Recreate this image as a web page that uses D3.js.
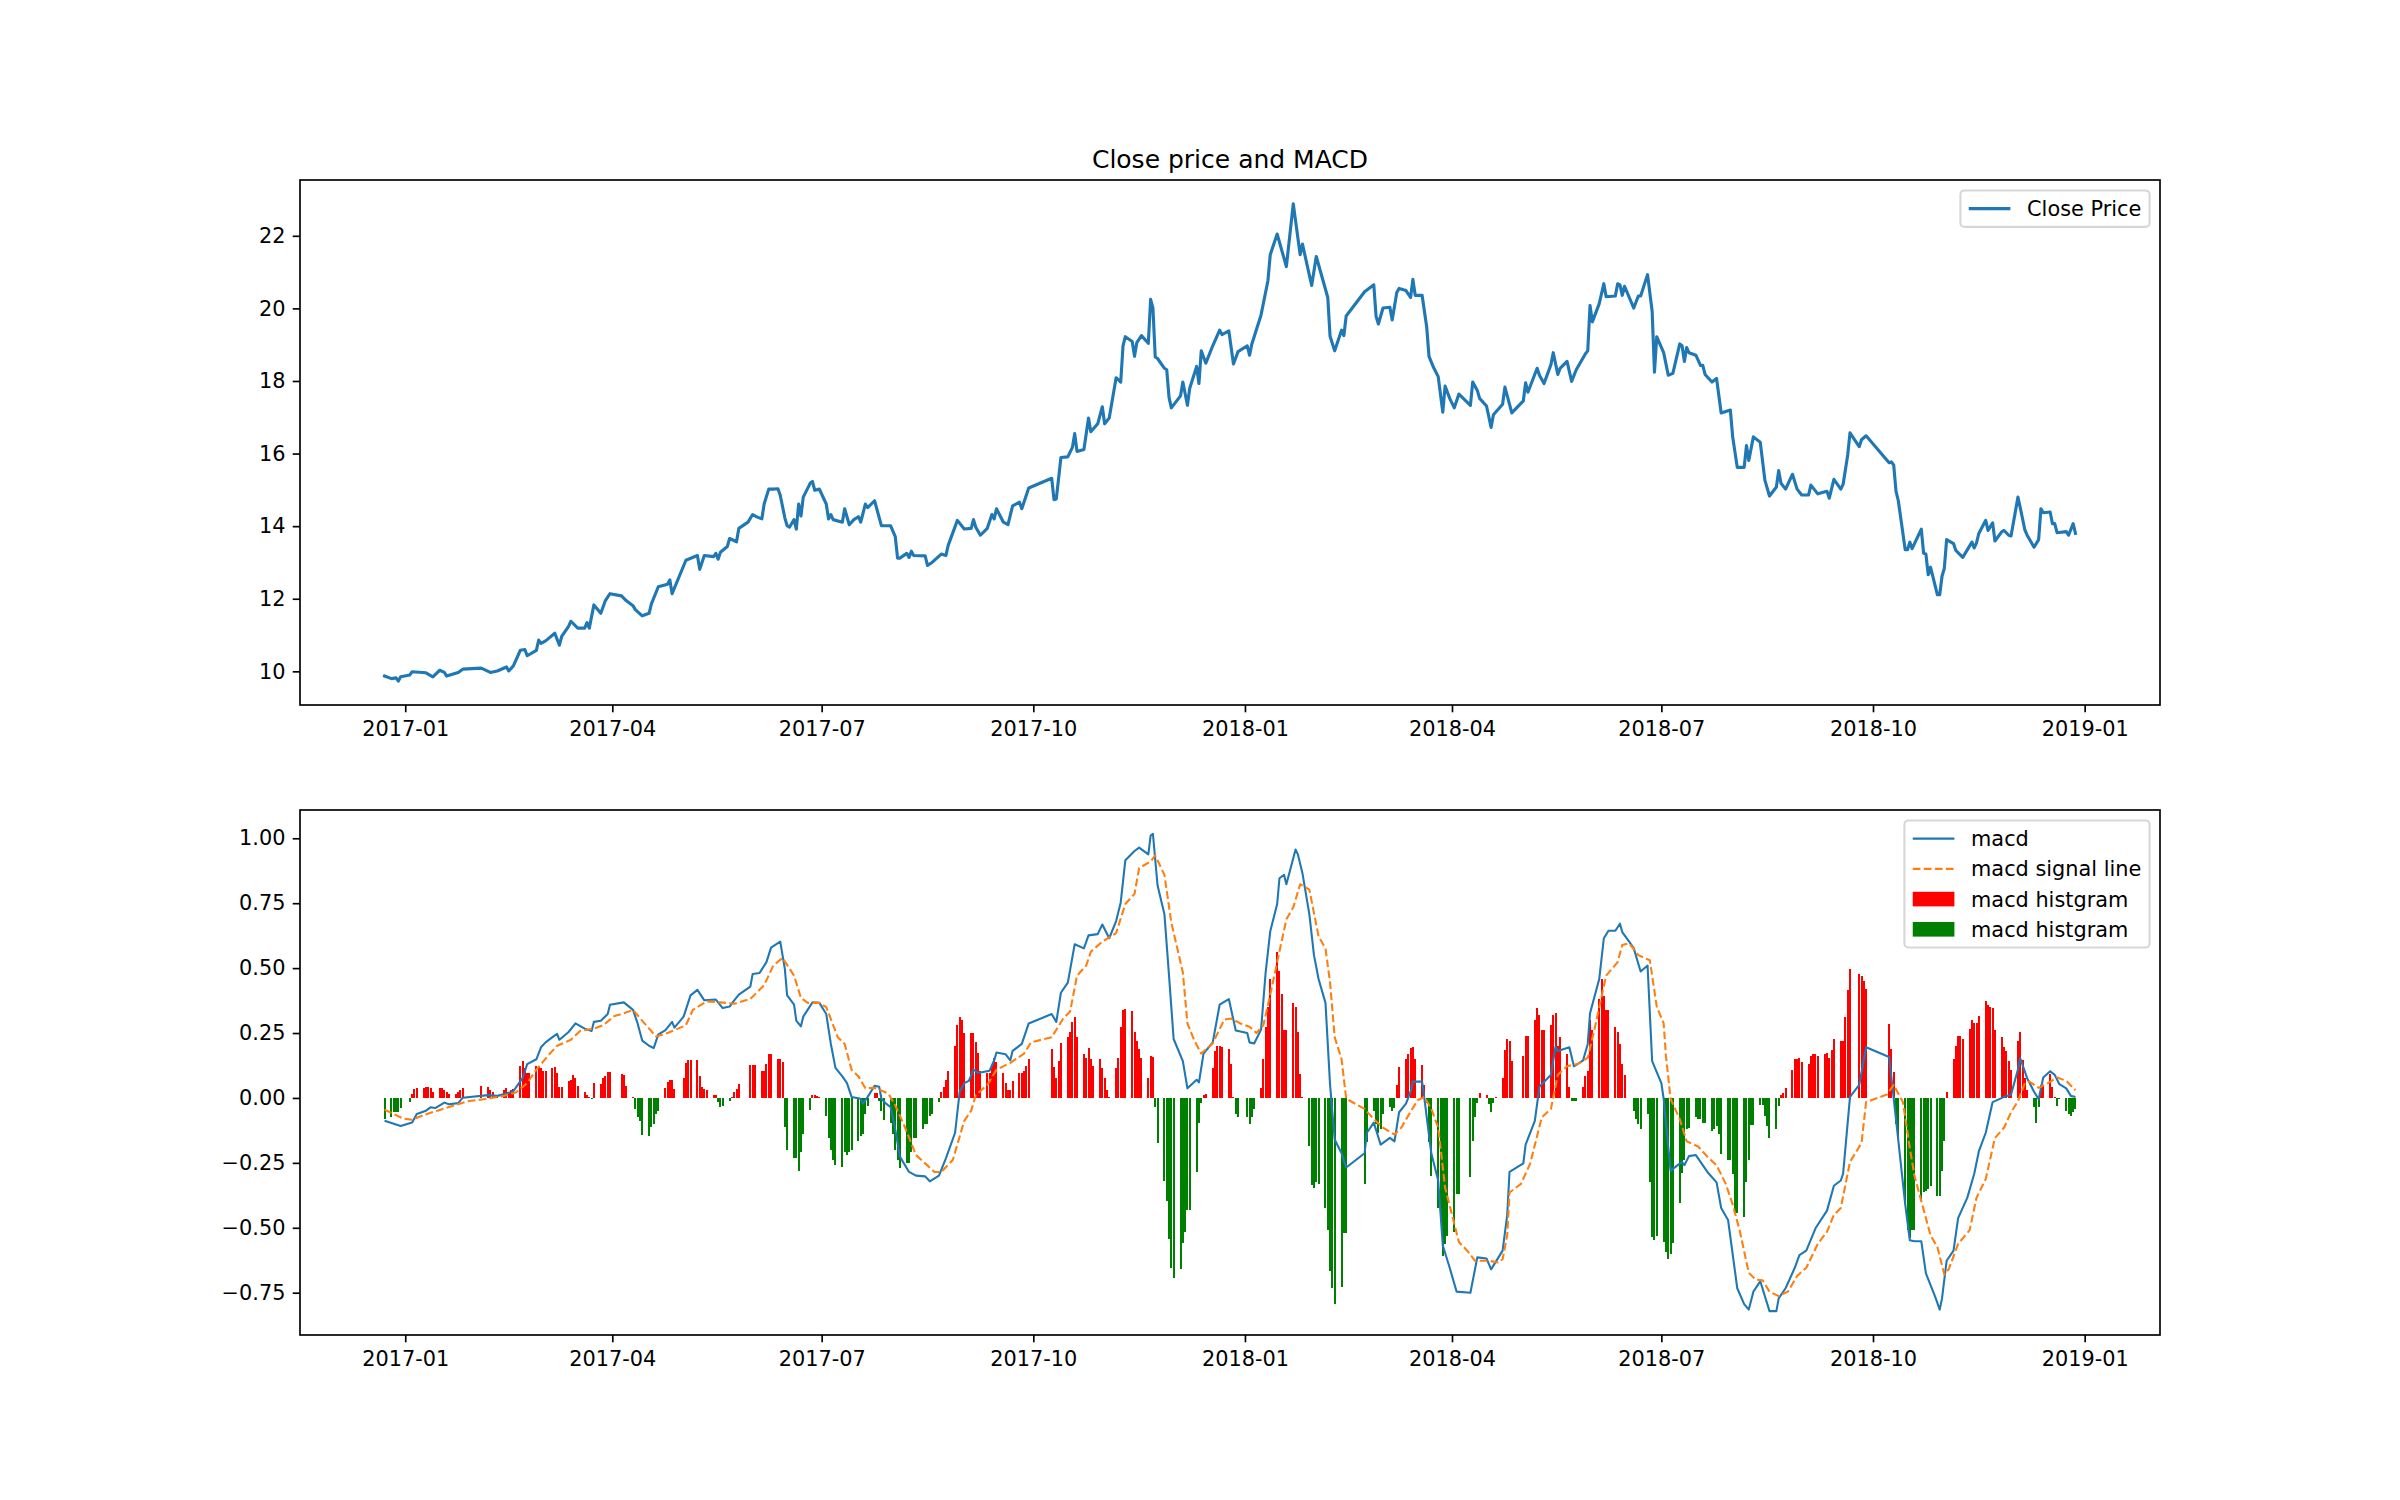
<!DOCTYPE html>
<html><head><meta charset="utf-8">
<script src="https://cdn.jsdelivr.net/npm/d3@7"></script>
<style>body{margin:0;background:#fff}svg{display:block}</style>
</head><body><svg id="c" width="2400" height="1500"></svg>
<script>
// ---------------- DATA ----------------
const closeDates = [
"2016-12-23","2016-12-26","2016-12-28","2016-12-29","2016-12-30",
"2017-01-03","2017-01-04","2017-01-10","2017-01-13","2017-01-16","2017-01-18","2017-01-19","2017-01-24","2017-01-26",
"2017-02-03","2017-02-07","2017-02-10","2017-02-14","2017-02-15","2017-02-17","2017-02-20","2017-02-22","2017-02-23","2017-02-27","2017-02-28",
"2017-03-01","2017-03-03","2017-03-07","2017-03-09","2017-03-10","2017-03-13","2017-03-14","2017-03-17","2017-03-20","2017-03-21","2017-03-22","2017-03-24","2017-03-27","2017-03-29","2017-03-31",
"2017-04-05","2017-04-07","2017-04-10","2017-04-11","2017-04-14","2017-04-17","2017-04-18","2017-04-21","2017-04-25","2017-04-26","2017-04-27",
"2017-05-03","2017-05-08","2017-05-09","2017-05-11","2017-05-15","2017-05-16","2017-05-17","2017-05-18","2017-05-21","2017-05-22","2017-05-25","2017-05-26","2017-05-30",
"2017-06-01","2017-06-03","2017-06-05","2017-06-06","2017-06-08","2017-06-10","2017-06-12","2017-06-13","2017-06-15","2017-06-16","2017-06-17","2017-06-19","2017-06-20","2017-06-21","2017-06-22","2017-06-23","2017-06-26","2017-06-27","2017-06-28","2017-06-30",
"2017-07-03","2017-07-04","2017-07-05","2017-07-06","2017-07-10","2017-07-11","2017-07-13","2017-07-15","2017-07-17","2017-07-18","2017-07-20","2017-07-21","2017-07-24","2017-07-27","2017-07-31",
"2017-08-02","2017-08-03","2017-08-04","2017-08-07","2017-08-08","2017-08-09","2017-08-10","2017-08-15","2017-08-16","2017-08-18","2017-08-22","2017-08-24","2017-08-25","2017-08-29",
"2017-09-01","2017-09-04","2017-09-05","2017-09-06","2017-09-08","2017-09-11","2017-09-13","2017-09-14","2017-09-15","2017-09-18","2017-09-20","2017-09-22","2017-09-25","2017-09-26","2017-09-29",
"2017-10-09","2017-10-10","2017-10-11","2017-10-13","2017-10-16","2017-10-18","2017-10-19","2017-10-20","2017-10-23","2017-10-25","2017-10-26","2017-10-29","2017-10-31",
"2017-11-01","2017-11-03","2017-11-06","2017-11-08","2017-11-09","2017-11-10","2017-11-13","2017-11-14","2017-11-15","2017-11-17","2017-11-20","2017-11-21","2017-11-22","2017-11-23","2017-11-24","2017-11-27","2017-11-28","2017-11-29","2017-11-30",
"2017-12-04","2017-12-05","2017-12-07","2017-12-08","2017-12-11","2017-12-12","2017-12-13","2017-12-15","2017-12-18","2017-12-21","2017-12-22","2017-12-25","2017-12-27","2017-12-29",
"2018-01-02","2018-01-03","2018-01-04","2018-01-08","2018-01-11","2018-01-12","2018-01-15","2018-01-17","2018-01-19","2018-01-22","2018-01-25","2018-01-26","2018-01-30",
"2018-02-01","2018-02-06","2018-02-07","2018-02-09","2018-02-12","2018-02-13","2018-02-14","2018-02-22","2018-02-26","2018-02-27","2018-02-28",
"2018-03-02","2018-03-05","2018-03-06","2018-03-08","2018-03-09","2018-03-12","2018-03-14","2018-03-15","2018-03-16","2018-03-19","2018-03-21","2018-03-22","2018-03-24","2018-03-26","2018-03-28","2018-03-29","2018-03-31",
"2018-04-02","2018-04-04","2018-04-09","2018-04-10","2018-04-12","2018-04-13","2018-04-16","2018-04-18","2018-04-19","2018-04-23","2018-04-24","2018-04-27",
"2018-05-02","2018-05-03","2018-05-04","2018-05-08","2018-05-09","2018-05-11","2018-05-14","2018-05-15","2018-05-17","2018-05-18","2018-05-21","2018-05-23","2018-05-25","2018-05-29","2018-05-30","2018-05-31",
"2018-06-01","2018-06-04","2018-06-06","2018-06-07","2018-06-11","2018-06-12","2018-06-13","2018-06-14","2018-06-15","2018-06-19","2018-06-21","2018-06-22","2018-06-25","2018-06-27","2018-06-28","2018-06-29",
"2018-07-02","2018-07-04","2018-07-06","2018-07-09","2018-07-10","2018-07-11","2018-07-12","2018-07-13","2018-07-16","2018-07-18","2018-07-19","2018-07-20","2018-07-23","2018-07-25","2018-07-27","2018-07-31",
"2018-08-01","2018-08-03","2018-08-06","2018-08-07","2018-08-08","2018-08-10","2018-08-13","2018-08-15","2018-08-17","2018-08-20","2018-08-21","2018-08-22","2018-08-24","2018-08-27","2018-08-29","2018-08-31",
"2018-09-03","2018-09-04","2018-09-07","2018-09-11","2018-09-12","2018-09-14","2018-09-17","2018-09-18","2018-09-20","2018-09-21","2018-09-25","2018-09-26","2018-09-28",
"2018-10-08","2018-10-09","2018-10-10","2018-10-11","2018-10-12","2018-10-15","2018-10-16","2018-10-17","2018-10-18","2018-10-22","2018-10-23","2018-10-24","2018-10-25","2018-10-26","2018-10-29","2018-10-30","2018-10-31",
"2018-11-01","2018-11-02","2018-11-05","2018-11-06","2018-11-09","2018-11-13","2018-11-14","2018-11-15","2018-11-16","2018-11-19","2018-11-20","2018-11-22","2018-11-23","2018-11-26","2018-11-27","2018-11-29","2018-11-30",
"2018-12-03","2018-12-04","2018-12-06","2018-12-07","2018-12-10","2018-12-12","2018-12-13","2018-12-14","2018-12-17","2018-12-18","2018-12-19","2018-12-20","2018-12-24","2018-12-25","2018-12-27","2018-12-28"
];
const closeValues = [
9.87,9.80,9.82,9.73,9.85,
9.90,9.99,9.96,9.85,10.03,9.97,9.87,9.97,10.06,
10.09,9.97,10.01,10.12,10.01,10.15,10.58,10.60,10.43,10.58,10.86,
10.77,10.84,11.05,10.72,10.96,11.24,11.38,11.19,11.19,11.34,11.19,11.83,11.60,11.95,12.14,
12.08,11.95,11.81,11.70,11.53,11.60,11.86,12.33,12.40,12.52,12.14,
13.06,13.19,12.81,13.19,13.16,13.25,13.09,13.28,13.44,13.66,13.57,13.94,14.11,
14.32,14.25,14.20,14.61,15.02,15.02,15.03,14.85,14.23,14.01,13.97,14.18,13.92,14.61,14.28,14.80,15.18,15.23,14.99,15.02,
14.61,14.20,14.32,14.18,14.11,14.48,14.04,14.18,14.26,14.11,14.61,14.51,14.70,14.01,14.01,
13.71,13.12,13.12,13.25,13.14,13.31,13.19,13.18,12.92,13.00,13.23,13.19,13.47,14.16,
13.92,13.94,14.18,13.97,13.75,13.94,14.32,14.20,14.48,14.11,14.04,14.56,14.66,14.48,15.05,
15.32,14.73,14.75,15.89,15.91,16.17,16.55,16.06,16.11,16.98,16.60,16.82,17.29,
16.82,16.98,18.09,17.97,18.97,19.22,19.09,18.68,19.06,19.25,19.04,20.25,20.01,18.66,18.62,18.35,18.31,17.55,17.26,
17.59,17.97,17.33,17.80,18.40,17.93,18.83,18.49,18.97,19.40,19.28,19.38,18.47,18.81,
18.97,18.71,19.02,19.82,20.77,21.48,22.05,21.60,21.15,22.88,21.48,21.77,20.63,
21.43,20.30,19.23,18.83,19.40,19.25,19.79,20.46,20.65,19.78,19.57,
20.01,20.03,19.68,20.44,20.55,20.49,20.30,20.80,20.36,20.36,19.49,18.68,18.37,18.12,17.14,17.86,17.52,
17.26,17.64,17.33,17.97,17.74,17.52,17.31,16.72,17.07,17.36,17.83,17.12,
17.45,17.95,17.69,18.35,18.16,17.93,18.45,18.78,18.18,18.35,18.54,17.99,18.31,18.75,18.83,20.08,
19.63,20.13,20.68,20.32,20.34,20.68,20.65,20.36,20.61,20.01,20.34,20.34,20.93,19.92,18.24,19.22,
18.78,18.16,18.21,19.02,18.97,18.54,18.92,18.78,18.71,18.43,18.43,18.18,17.97,18.07,17.12,17.20,
16.46,15.62,15.62,16.22,15.81,16.46,16.31,15.27,14.83,15.08,15.53,15.18,15.02,15.43,15.02,14.86,
14.86,15.13,14.89,14.96,14.77,15.29,15.02,15.15,15.96,16.57,16.19,16.38,16.49,
15.75,15.77,15.68,14.96,14.70,13.35,13.35,13.56,13.38,13.92,13.25,13.23,12.66,12.87,12.11,12.11,12.62,
12.84,13.63,13.52,13.33,13.14,13.56,13.40,13.54,13.80,14.16,13.88,14.09,13.59,13.85,13.88,13.75,13.73,
14.80,14.51,13.90,13.75,13.42,13.63,14.48,14.37,14.39,14.07,14.07,13.82,13.85,13.75,14.07,13.80
];

const macdDates = [
"2016-12-23","2016-12-30",
"2017-01-04","2017-01-06","2017-01-10","2017-01-12","2017-01-14","2017-01-18","2017-01-20","2017-01-24","2017-01-26",
"2017-02-06","2017-02-10","2017-02-14","2017-02-17","2017-02-21","2017-02-23","2017-02-27",
"2017-03-01","2017-03-03","2017-03-06","2017-03-08","2017-03-09","2017-03-13","2017-03-16","2017-03-20","2017-03-23","2017-03-24","2017-03-27","2017-03-30","2017-03-31",
"2017-04-06","2017-04-10","2017-04-12","2017-04-14","2017-04-17","2017-04-19","2017-04-21","2017-04-24","2017-04-27","2017-04-28",
"2017-05-02","2017-05-05","2017-05-08","2017-05-11","2017-05-16","2017-05-19","2017-05-22","2017-05-24","2017-05-26","2017-05-31",
"2017-06-01","2017-06-04","2017-06-07","2017-06-09","2017-06-13","2017-06-15","2017-06-16","2017-06-19","2017-06-20","2017-06-22","2017-06-23","2017-06-27","2017-06-30",
"2017-07-03","2017-07-05","2017-07-07","2017-07-10","2017-07-12","2017-07-14","2017-07-18","2017-07-19","2017-07-21","2017-07-24","2017-07-26","2017-07-27","2017-07-29","2017-07-31",
"2017-08-02","2017-08-04","2017-08-08","2017-08-11","2017-08-15","2017-08-17","2017-08-21","2017-08-24","2017-08-28","2017-08-30",
"2017-09-01","2017-09-03","2017-09-05","2017-09-07","2017-09-12","2017-09-14","2017-09-15","2017-09-19","2017-09-21","2017-09-22","2017-09-26","2017-09-29",
"2017-10-09","2017-10-11","2017-10-13","2017-10-16","2017-10-19","2017-10-23","2017-10-25","2017-10-29","2017-10-31",
"2017-11-03","2017-11-06","2017-11-08","2017-11-10","2017-11-14","2017-11-16","2017-11-20","2017-11-21","2017-11-22","2017-11-24","2017-11-27","2017-11-29",
"2017-12-01","2017-12-05","2017-12-07","2017-12-11","2017-12-12","2017-12-14","2017-12-18","2017-12-21","2017-12-25","2017-12-27","2017-12-28",
"2018-01-02","2018-01-03","2018-01-05","2018-01-08","2018-01-10","2018-01-12","2018-01-15","2018-01-16","2018-01-18","2018-01-19","2018-01-23","2018-01-24","2018-01-26","2018-01-29","2018-01-31",
"2018-02-02","2018-02-05","2018-02-07","2018-02-09","2018-02-12","2018-02-14","2018-02-22","2018-02-23","2018-02-26",
"2018-03-01","2018-03-05","2018-03-07","2018-03-09","2018-03-12","2018-03-14","2018-03-15","2018-03-19","2018-03-20","2018-03-23","2018-03-26","2018-03-28","2018-03-31",
"2018-04-03","2018-04-09","2018-04-12","2018-04-16","2018-04-18","2018-04-23","2018-04-25","2018-04-26",
"2018-05-02","2018-05-03","2018-05-07","2018-05-09","2018-05-14","2018-05-16","2018-05-17","2018-05-22","2018-05-24","2018-05-28","2018-05-30","2018-05-31",
"2018-06-04","2018-06-06","2018-06-08","2018-06-11","2018-06-13","2018-06-14","2018-06-17","2018-06-19","2018-06-22","2018-06-25","2018-06-27",
"2018-07-01","2018-07-02","2018-07-05","2018-07-10","2018-07-11","2018-07-13","2018-07-16","2018-07-21","2018-07-25","2018-07-27","2018-07-30",
"2018-08-03","2018-08-06","2018-08-08","2018-08-10","2018-08-13","2018-08-17","2018-08-20","2018-08-21","2018-08-24","2018-08-28","2018-08-30",
"2018-09-02","2018-09-06","2018-09-11","2018-09-14","2018-09-17","2018-09-18","2018-09-21","2018-09-25","2018-09-28",
"2018-10-08","2018-10-11","2018-10-15","2018-10-17","2018-10-19","2018-10-22","2018-10-24","2018-10-28","2018-10-30","2018-10-31",
"2018-11-02","2018-11-05","2018-11-07","2018-11-11","2018-11-14","2018-11-16","2018-11-19","2018-11-22","2018-11-27","2018-11-30",
"2018-12-03","2018-12-04","2018-12-07","2018-12-10","2018-12-12","2018-12-14","2018-12-17","2018-12-19","2018-12-21","2018-12-24","2018-12-26","2018-12-28"
];
const macdValues = [
-0.088,-0.108,
-0.095,-0.062,-0.049,-0.036,-0.039,-0.018,-0.024,-0.020,0.001,
0.011,0.008,0.017,0.026,0.076,0.13,0.149,
0.195,0.214,0.234,0.247,0.224,0.254,0.287,0.267,0.258,0.293,0.297,0.323,0.359,
0.368,0.339,0.287,0.221,0.201,0.192,0.245,0.260,0.293,0.271,
0.313,0.395,0.416,0.376,0.379,0.346,0.352,0.376,0.398,0.429,
0.477,0.481,0.523,0.579,0.602,0.497,0.395,0.359,0.297,0.276,0.313,0.368,0.366,
0.323,0.208,0.116,0.083,0.057,0.004,-0.003,-0.022,0.004,0.047,0.043,-0.003,-0.022,-0.036,
-0.121,-0.226,-0.285,-0.299,-0.302,-0.321,-0.299,-0.233,-0.134,0.024,
0.057,0.066,0.109,0.096,0.105,0.145,0.175,0.168,0.145,0.181,0.208,0.287,
0.323,0.293,0.405,0.444,0.592,0.576,0.626,0.631,0.668,
0.615,0.681,0.753,0.915,0.951,0.964,0.938,1.010,1.017,0.819,0.707,0.471,
0.227,0.142,0.037,0.070,0.060,0.171,0.214,0.359,0.381,0.300,0.260,
0.250,0.214,0.210,0.263,0.484,0.642,0.747,0.846,0.859,0.823,0.957,0.938,0.865,0.707,0.550,
0.458,0.366,0.050,-0.160,-0.213,-0.268,-0.213,-0.134,-0.095,
-0.180,-0.154,-0.167,-0.055,-0.022,0.024,0.063,0.063,-0.003,-0.213,-0.318,-0.568,-0.654,
-0.746,-0.750,-0.614,-0.618,-0.660,-0.588,-0.450,-0.285,
-0.252,-0.180,-0.088,0.043,0.089,0.197,0.181,0.195,0.122,0.145,0.208,0.326,
0.458,0.615,0.644,0.644,0.671,0.639,0.602,0.576,0.487,0.510,0.142,
0.057,-0.003,-0.28,-0.246,-0.259,-0.224,-0.220,-0.285,-0.325,-0.424,-0.470,
-0.733,-0.794,-0.815,-0.746,-0.706,-0.821,-0.821,-0.772,-0.733,-0.654,-0.605,
-0.588,-0.502,-0.434,-0.338,-0.318,-0.292,0.004,0.050,0.195,
0.158,-0.082,-0.410,-0.548,-0.552,-0.552,-0.676,-0.765,-0.815,-0.772,
-0.627,-0.588,-0.463,-0.384,-0.292,-0.206,-0.134,-0.016,0.004,0.013,
0.109,0.153,0.076,0.024,-0.005,0.079,0.103,0.089,0.053,0.037,0.008,0.004
];

const signalDates = [
"2016-12-23","2016-12-31",
"2017-01-04","2017-01-09","2017-01-15","2017-01-21","2017-01-28",
"2017-02-04","2017-02-13","2017-02-18","2017-02-23","2017-02-27",
"2017-03-04","2017-03-08","2017-03-14","2017-03-18","2017-03-24","2017-03-28",
"2017-04-02","2017-04-06","2017-04-10","2017-04-15","2017-04-20","2017-04-25",
"2017-05-03","2017-05-06","2017-05-12","2017-05-18","2017-05-24","2017-05-31",
"2017-06-06","2017-06-10","2017-06-14","2017-06-19","2017-06-22","2017-06-25","2017-06-30",
"2017-07-03","2017-07-08","2017-07-11","2017-07-14","2017-07-17","2017-07-20","2017-07-24","2017-07-30",
"2017-08-02","2017-08-06","2017-08-11","2017-08-15","2017-08-19","2017-08-22","2017-08-27",
"2017-09-01","2017-09-04","2017-09-06","2017-09-11","2017-09-15","2017-09-21","2017-09-27","2017-09-30",
"2017-10-09","2017-10-14","2017-10-17","2017-10-20","2017-10-24","2017-10-26","2017-10-31",
"2017-11-06","2017-11-10","2017-11-14","2017-11-16","2017-11-21","2017-11-23","2017-11-27","2017-11-30",
"2017-12-05","2017-12-07","2017-12-10","2017-12-13","2017-12-18","2017-12-23","2017-12-26","2017-12-30",
"2018-01-03","2018-01-06","2018-01-09","2018-01-12","2018-01-15","2018-01-19","2018-01-22","2018-01-25","2018-01-29",
"2018-02-02","2018-02-05","2018-02-07","2018-02-09","2018-02-12","2018-02-14","2018-02-22","2018-02-26",
"2018-03-02","2018-03-07","2018-03-10","2018-03-13","2018-03-17","2018-03-20","2018-03-23","2018-03-26","2018-03-29",
"2018-04-01","2018-04-04","2018-04-08","2018-04-11","2018-04-17","2018-04-21","2018-04-23","2018-04-25","2018-04-26",
"2018-05-01","2018-05-05","2018-05-10","2018-05-14","2018-05-17","2018-05-21","2018-05-26","2018-05-30",
"2018-06-02","2018-06-07","2018-06-12","2018-06-14","2018-06-17","2018-06-21","2018-06-26","2018-06-29",
"2018-07-02","2018-07-03","2018-07-05","2018-07-09","2018-07-12","2018-07-17","2018-07-21","2018-07-25","2018-07-29",
"2018-08-01","2018-08-04","2018-08-08","2018-08-11","2018-08-14","2018-08-17","2018-08-21","2018-08-25","2018-08-29",
"2018-09-02","2018-09-07","2018-09-11","2018-09-14","2018-09-17","2018-09-21","2018-09-26","2018-09-28",
"2018-10-07","2018-10-10","2018-10-14","2018-10-17","2018-10-19","2018-10-23","2018-10-26","2018-10-29",
"2018-11-01","2018-11-03","2018-11-07","2018-11-12","2018-11-15","2018-11-19","2018-11-23","2018-11-27","2018-11-30",
"2018-12-03","2018-12-06","2018-12-08","2018-12-12","2018-12-16","2018-12-20","2018-12-24","2018-12-28"
];
const signalValues = [
-0.045,-0.079,
-0.084,-0.066,-0.049,-0.032,-0.013,
-0.005,0.008,0.021,0.057,0.109,
0.162,0.201,0.224,0.258,0.267,0.280,
0.316,0.326,0.339,0.287,0.237,0.250,
0.280,0.339,0.372,0.368,0.363,0.381,
0.434,0.510,0.539,0.471,0.385,0.366,0.366,
0.350,0.234,0.208,0.109,0.083,0.037,0.039,0.017,
-0.029,-0.108,-0.220,-0.252,-0.285,-0.285,-0.239,
-0.088,-0.049,0.011,0.050,0.109,0.135,0.171,0.214,
0.234,0.306,0.333,0.471,0.510,0.563,0.602,
0.635,0.747,0.786,0.885,0.911,0.934,0.859,0.675,
0.484,0.287,0.221,0.171,0.210,0.302,0.306,0.287,
0.274,0.250,0.280,0.398,0.523,0.688,0.734,0.823,0.802,
0.622,0.576,0.444,0.234,0.149,-0.003,-0.042,-0.082,
-0.114,-0.141,-0.114,-0.068,-0.009,0.004,-0.042,-0.114,-0.345,
-0.450,-0.555,-0.592,-0.627,-0.627,-0.634,-0.621,-0.529,-0.364,
-0.331,-0.252,-0.075,-0.042,0.089,0.122,0.132,0.155,
0.267,0.471,0.523,0.589,0.596,0.550,0.530,0.352,
0.287,0.162,-0.003,-0.082,-0.167,-0.187,-0.226,-0.259,-0.331,
-0.410,-0.509,-0.673,-0.700,-0.702,-0.746,-0.763,-0.746,-0.686,
-0.654,-0.562,-0.515,-0.450,-0.424,-0.246,-0.174,-0.016,
0.013,0.050,-0.016,-0.193,-0.299,-0.430,-0.529,-0.575,
-0.680,-0.658,-0.562,-0.509,-0.384,-0.312,-0.154,-0.114,-0.055,
-0.013,0.057,0.063,0.039,0.057,0.079,0.066,0.030
];

// histogram: one row per trading week (Mon..Fri), null = market closed
const histWeeks = [
"2016-12-19","2016-12-26","2017-01-02","2017-01-09","2017-01-16","2017-01-23","2017-01-30","2017-02-06","2017-02-13","2017-02-20","2017-02-27",
"2017-03-06","2017-03-13","2017-03-20","2017-03-27","2017-04-03","2017-04-10","2017-04-17","2017-04-24","2017-05-01","2017-05-08","2017-05-15",
"2017-05-22","2017-05-29","2017-06-05","2017-06-12","2017-06-19","2017-06-26","2017-07-03","2017-07-10","2017-07-17","2017-07-24","2017-07-31",
"2017-08-07","2017-08-14","2017-08-21","2017-08-28","2017-09-04","2017-09-11","2017-09-18","2017-09-25","2017-10-09","2017-10-16","2017-10-23",
"2017-10-30","2017-11-06","2017-11-13","2017-11-20","2017-11-27","2017-12-04","2017-12-11","2017-12-18","2017-12-25",
"2018-01-01","2018-01-08","2018-01-15","2018-01-22","2018-01-29","2018-02-05","2018-02-12","2018-02-19","2018-02-26","2018-03-05","2018-03-12",
"2018-03-19","2018-03-26","2018-04-02","2018-04-09","2018-04-16","2018-04-23","2018-04-30","2018-05-07","2018-05-14","2018-05-21","2018-05-28",
"2018-06-04","2018-06-11","2018-06-18","2018-06-25","2018-07-02","2018-07-09","2018-07-16","2018-07-23","2018-07-30","2018-08-06","2018-08-13",
"2018-08-20","2018-08-27","2018-09-03","2018-09-10","2018-09-17","2018-09-24","2018-10-08","2018-10-15","2018-10-22","2018-10-29","2018-11-05",
"2018-11-12","2018-11-19","2018-11-26","2018-12-03","2018-12-10","2018-12-17","2018-12-24"
];
const histValues = [
[null,null,null,null,-0.08],[-0.075,-0.055,-0.055,-0.055,-0.04],[null,-0.016,0.017,0.034,0.037],[0.04,0.043,0.043,0.037,0.021],
[0.037,0.04,0.03,0.024,0.017],[0.017,0.024,0.03,0.037,null],[null,null,null,null,0.047],[0.043,0.03,0.024,0.011,0.013],
[0.03,0.037,0.024,0.03,0.034],[0.122,0.142,0.116,0.096,0.096],[0.122,0.122,0.116,0.103,0.103],
[0.116,0.118,0.096,0.043,0.043],[0.066,0.07,0.087,0.076,0.047],[0.021,0.013,0.002,-0.003,0.057],[0.053,0.076,0.083,0.099,0.099],
[null,null,0.092,0.087,0.047],[0.004,-0.042,-0.075,-0.09,-0.141],[-0.147,-0.11,-0.1,-0.06,-0.05],[0.037,0.06,0.07,0.07,0.035],
[null,0.076,0.135,0.145,0.145],[0.145,0.083,0.043,0.034,0.03],[0.013,0.01,-0.016,-0.036,-0.03],
[-0.013,0.004,0.021,0.034,0.053],[null,null,0.126,0.126,0.126],[0.103,0.103,0.129,0.168,0.168],[0.15,0.15,0.14,-0.11,-0.2],
[-0.23,-0.23,-0.28,-0.21,-0.14],[-0.045,0.013,0.013,0.008,0.003],[-0.068,-0.154,-0.2,-0.24,-0.26],[-0.265,-0.21,-0.22,-0.21,-0.2],
[-0.167,-0.147,-0.14,-0.062,-0.03],[0.02,0.02,-0.01,-0.05,-0.085],[-0.095,-0.14,-0.2,-0.24,-0.27],
[-0.25,-0.25,-0.21,-0.154,-0.154],[-0.12,-0.1,-0.1,-0.068,-0.062],[-0.016,0.024,0.043,0.07,0.105],[0.2,0.28,0.31,0.3,0.25],
[0.25,0.25,0.214,0.175,0.103],[0.096,0.096,0.122,0.155,0.14],[0.096,0.057,0.03,0.03,0.066],[0.096,0.096,0.103,0.122,0.149],
[0.188,0.118,0.076,0.142,0.21],[0.234,0.254,0.293,0.313,0.234],[0.171,0.155,0.192,0.149,0.122],
[0.149,0.116,0.076,0.03,0.004],[0.116,0.155,0.274,0.34,0.342],[0.333,0.254,0.221,0.188,0.155],[0.076,0.162,0.158,-0.036,-0.174],
[-0.318,-0.397,-0.542,-0.654,-0.693],[-0.66,-0.56,-0.516,-0.43,-0.43],[-0.285,-0.095,-0.02,0.013,0.017],[0.116,0.18,0.2,0.2,0.195],
[0.188,0.129,0.002,-0.062,-0.075],
[null,-0.075,-0.1,-0.075,-0.042],[0.037,0.149,0.274,0.352,0.458],[0.563,0.487,0.4,0.26,0.26],[0.366,0.352,0.254,0.092,0.004],
[-0.184,-0.334,-0.345,-0.325,-0.33],[-0.424,-0.509,-0.667,-0.733,-0.794],[-0.729,-0.522,-0.52,null,null],[null,null,null,-0.33,-0.17],
[-0.05,-0.1,-0.135,-0.12,-0.06],[-0.036,-0.05,-0.04,0.05,0.12],[0.149,0.171,0.192,0.195,0.149],
[0.126,0.05,-0.02,-0.17,-0.3],[-0.424,-0.476,-0.608,-0.562,-0.53],[-0.516,-0.37,-0.37,null,null],[-0.305,-0.167,-0.075,-0.02,0.02],
[0.013,-0.022,-0.055,-0.02,0.004],[0.076,0.184,0.228,0.221,0.142],[null,null,0.162,0.237,0.237],[0.3,0.346,0.32,0.26,0.26],
[0.28,0.32,0.326,0.2,0.234],[0.168,0.043,-0.01,-0.01,-0.01],[0.043,0.083,0.103,0.3,0.26],
[0.38,0.458,0.392,0.34,0.34],[0.274,0.254,0.208,0.129,0.089],[null,-0.049,-0.082,-0.1,-0.12],[-0.062,-0.325,-0.535,-0.548,-0.53],
[-0.555,-0.595,-0.62,-0.6,-0.56],[-0.404,-0.29,-0.24,-0.118,-0.114],[-0.075,-0.082,-0.082,-0.095,-0.095],[-0.128,-0.12,-0.108,-0.14,-0.215],
[-0.24,-0.24,-0.292,-0.443,-0.443],[-0.46,-0.325,-0.24,-0.105,-0.105],[-0.026,-0.026,-0.068,-0.108,-0.154],
[-0.12,-0.03,0.01,0.02,0.037],[0.109,0.149,0.149,0.155,0.14],[0.129,0.162,0.171,0.168,0.162],[0.168,0.175,0.155,0.184,0.228],
[0.218,0.221,0.313,0.415,0.497],[null,0.477,0.47,0.45,0.42],[0.284,0.19,0.1,-0.1,-0.16],[-0.41,-0.51,-0.54,-0.51,-0.51],
[-0.397,-0.364,-0.358,-0.351,-0.338],[-0.377,-0.377,-0.28,-0.167,0.024],[0.149,0.2,0.237,0.237,0.228],
[0.267,0.3,0.29,0.29,0.316],[0.372,0.359,0.352,0.346,0.26],[0.234,0.195,0.179,0.142,0.109],[0.221,0.254,0.145,0.076,0.03],
[-0.036,-0.095,-0.036,0.05,0.05],[0.092,0.043,0.004,-0.03,-0.005],[-0.049,-0.062,-0.07,-0.055,-0.042]
];

const xTickLabels = ["2017-01","2017-04","2017-07","2017-10","2018-01","2018-04","2018-07","2018-10","2019-01"];
const priceTicks = [10,12,14,16,18,20,22];
const macdTicks = [-0.75,-0.50,-0.25,0.00,0.25,0.50,0.75,1.00];
const titleText = "Close price and MACD";
const legend1 = ["Close Price"];
const legend2 = ["macd","macd signal line","macd histgram","macd histgram"];

// ---------------- CHART ----------------
const FONT = "DejaVu Sans";
const FS = 20.83;            // 10pt @150dpi
const LW = 1.667;            // 0.8pt spine/tick
const L = 300, R = 2160;
const P1 = {top:180, bottom:705}, P2 = {top:810, bottom:1335};
const DAY = 864e5;
const parse = d3.utcParse("%Y-%m-%d");
const svg = d3.select("#c");
svg.append("rect").attr("width",2400).attr("height",1500).attr("fill","#fff");

const cDates = closeDates.map(parse);
const xMin = d3.min(cDates), xMax = d3.max(cDates), span = xMax - xMin;
const x = d3.scaleUtc().domain([new Date(+xMin - 0.05*span), new Date(+xMax + 0.05*span)]).range([L, R]);

const pMin = d3.min(closeValues), pMax = d3.max(closeValues), pr = pMax - pMin;
const y1 = d3.scaleLinear().domain([pMin - 0.05*pr, pMax + 0.05*pr]).range([P1.bottom, P1.top]);

// histogram bars
const bars = [];
histWeeks.forEach((w, i) => {
  const m = parse(w);
  histValues[i].forEach((v, j) => { if (v !== null) bars.push({d: new Date(+m + j*DAY), v}); });
});
const allLow = d3.min([d3.min(macdValues), d3.min(signalValues), d3.min(bars, b => b.v), 0]);
const allHigh = d3.max([d3.max(macdValues), d3.max(signalValues), d3.max(bars, b => b.v), 0]);
const mr = allHigh - allLow;
const y2 = d3.scaleLinear().domain([allLow - 0.05*mr, allHigh + 0.05*mr]).range([P2.bottom, P2.top]);

// clip paths
const defs = svg.append("defs");
defs.append("clipPath").attr("id","clip1").append("rect").attr("x",L).attr("y",P1.top).attr("width",R-L).attr("height",P1.bottom-P1.top);
defs.append("clipPath").attr("id","clip2").append("rect").attr("x",L).attr("y",P2.top).attr("width",R-L).attr("height",P2.bottom-P2.top);

// ---- top panel
const g1 = svg.append("g").attr("clip-path","url(#clip1)");
g1.append("path")
  .datum(cDates.map((d,i)=>[d, closeValues[i]]))
  .attr("fill","none").attr("stroke","#1f77b4").attr("stroke-width",3.125)
  .attr("stroke-linejoin","round").attr("stroke-linecap","square")
  .attr("d", d3.line().x(d=>x(d[0])).y(d=>y1(d[1])));

// ---- bottom panel (bars 0.8 day wide, snapped to whole pixels like Agg)
const g2 = svg.append("g").attr("clip-path","url(#clip2)");
const barW = b => Math.max(2, Math.round(x(new Date(+b.d + 0.4*DAY)) - x(new Date(+b.d - 0.4*DAY))));
g2.selectAll("rect.bar").data(bars).join("rect").attr("class","bar")
  .attr("shape-rendering","crispEdges")
  .attr("x", b => Math.round(x(b.d) - barW(b)/2))
  .attr("width", barW)
  .attr("y", b => Math.min(y2(b.v), y2(0)))
  .attr("height", b => Math.abs(y2(b.v) - y2(0)))
  .attr("fill", b => b.v >= 0 ? "#ff0000" : "#008000");

const mDates = macdDates.map(parse), sDates = signalDates.map(parse);
g2.append("path")
  .datum(mDates.map((d,i)=>[d, macdValues[i]]))
  .attr("fill","none").attr("stroke","#1f77b4").attr("stroke-width",2.083)
  .attr("stroke-linejoin","round")
  .attr("d", d3.line().x(d=>x(d[0])).y(d=>y2(d[1])));
g2.append("path")
  .datum(sDates.map((d,i)=>[d, signalValues[i]]))
  .attr("fill","none").attr("stroke","#ff7f0e").attr("stroke-width",2.083)
  .attr("stroke-dasharray","7.71,3.33").attr("stroke-linejoin","round")
  .attr("d", d3.line().x(d=>x(d[0])).y(d=>y2(d[1])));

// ---- axes
const xTickDates = xTickLabels.map(s => parse(s + "-01"));
function styleAxis(sel) {
  sel.attr("font-family", FONT).attr("font-size", FS);
  sel.select(".domain").remove();
  sel.selectAll(".tick line").attr("stroke","#000").attr("stroke-width",LW);
  sel.selectAll(".tick text").attr("fill","#000");
}
function drawAxes(yScale, ticks, fmt, P) {
  svg.append("g").attr("transform",`translate(0,${P.bottom})`)
    .call(d3.axisBottom(x).tickValues(xTickDates).tickFormat((d,i)=>xTickLabels[i]).tickSize(7.29).tickPadding(7.29))
    .call(styleAxis)
    .call(g => g.selectAll(".tick text").attr("dy","0.8em"));
  svg.append("g").attr("transform",`translate(${L},0)`)
    .call(d3.axisLeft(yScale).tickValues(ticks).tickFormat(fmt).tickSize(7.29).tickPadding(7.29))
    .call(styleAxis);
  svg.append("rect").attr("x",L).attr("y",P.top).attr("width",R-L).attr("height",P.bottom-P.top)
    .attr("fill","none").attr("stroke","#000").attr("stroke-width",LW);
}
drawAxes(y1, priceTicks, d3.format("d"), P1);
drawAxes(y2, macdTicks, d3.format(".2f"), P2);

// ---- title
svg.append("text").attr("x",(L+R)/2).attr("y",P1.top-12.5)
  .attr("text-anchor","middle").attr("font-family",FONT).attr("font-size",25).attr("fill","#000")
  .text(titleText);

// ---- legends
function legend(P, items) {
  const pad = 8.33, hl = 41.67, hp = 16.67, ls = 10.42, rowH = 19.8, bap = 10.42;
  const g = svg.append("g");
  const texts = items.map(it => g.append("text").attr("font-family",FONT).attr("font-size",FS).attr("fill","#000").text(it.label));
  const tw = d3.max(texts, t => t.node().getComputedTextLength());
  const w = pad*2 + hl + hp + tw;
  const h = pad*2 + items.length*rowH + (items.length-1)*ls;
  const bx = R - bap - w, by = P.top + bap;
  g.insert("rect","text").attr("x",bx).attr("y",by).attr("width",w).attr("height",h).attr("rx",4).attr("ry",4)
    .attr("fill","#fff").attr("fill-opacity",0.8).attr("stroke","#cccccc").attr("stroke-opacity",0.8).attr("stroke-width",2.08);
  items.forEach((it, i) => {
    const cy = by + pad + rowH/2 + i*(rowH + ls);
    const hx = bx + pad;
    if (it.type === "line") {
      g.append("line").attr("x1",hx).attr("x2",hx+hl).attr("y1",cy).attr("y2",cy)
        .attr("stroke",it.color).attr("stroke-width",it.width).attr("stroke-dasharray",it.dash||null);
    } else {
      g.append("rect").attr("x",hx).attr("y",cy-7.3).attr("width",hl).attr("height",14.6).attr("fill",it.color);
    }
    texts[i].attr("x", hx + hl + hp).attr("y", cy).attr("dy","0.36em");
  });
}
legend(P1, [{label:legend1[0], type:"line", color:"#1f77b4", width:3.125}]);
legend(P2, [
  {label:legend2[0], type:"line", color:"#1f77b4", width:2.083},
  {label:legend2[1], type:"line", color:"#ff7f0e", width:2.083, dash:"7.71,3.33"},
  {label:legend2[2], type:"rect", color:"#ff0000"},
  {label:legend2[3], type:"rect", color:"#008000"}
]);
</script>
</body></html>
